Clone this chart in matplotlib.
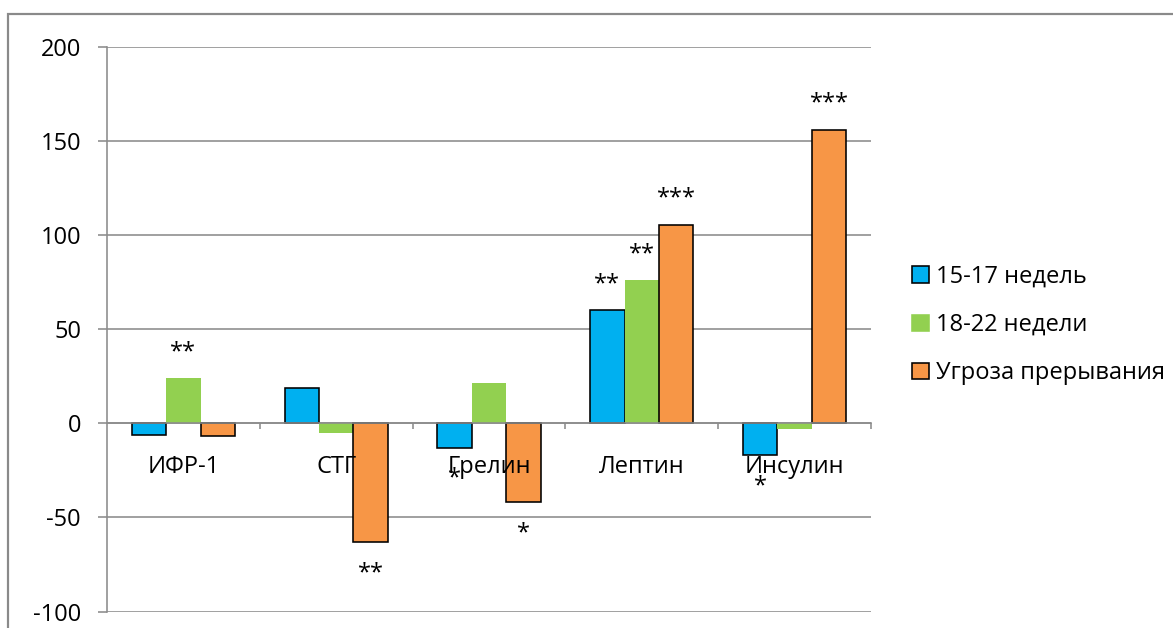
import matplotlib
matplotlib.use("Agg")
import matplotlib.pyplot as plt
from matplotlib.patches import Rectangle, Patch
from matplotlib.ticker import FixedLocator, FuncFormatter

plt.rcParams["font.family"] = ["Open Sans", "DejaVu Sans"]
plt.rcParams["axes.unicode_minus"] = False

# Data
categories = ["ИФР-1", "СТГ", "Грелин", "Лептин", "Инсулин"]
series_names = ["15-17 недель", "18-22 недели", "Угроза прерывания"]
weeks_15_17 = [-6, 19, -13, 60, -17]
weeks_18_22 = [24, -5, 21.5, 76, -3]
threat = [-6.5, -63, -42, 105.5, 156]
stars_15_17 = ["", "", "*", "**", "*"]
stars_18_22 = ["**", "", "", "**", ""]
stars_threat = ["", "**", "*", "***", "***"]
y_ticks = [-100, -50, 0, 50, 100, 150, 200]

series_values = [weeks_15_17, weeks_18_22, threat]
series_stars = [stars_15_17, stars_18_22, stars_threat]
colors = ["#00B0F0", "#92D050", "#F79646"]
edges = ["black", "none", "black"]

W, H, DPI = 1173, 628, 100
fig = plt.figure(figsize=(W / DPI, H / DPI), dpi=DPI)
ax = fig.add_axes([107 / W, 1 - 611.6 / H, (871 - 107) / W, (611.6 - 46.7) / H])

grid_col = "#8c8c8c"
fs = 17
px = 72 / DPI  # points per pixel

x = list(range(len(categories)))
bw = 0.2255
for i, (vals, col, ec) in enumerate(zip(series_values, colors, edges)):
    xs = [xi + (i - 1) * bw for xi in x]
    ax.bar(xs, vals, width=bw, color=col, edgecolor=ec,
           linewidth=1.6 * px if ec != "none" else 0, zorder=2)
    for xi, v, s in zip(xs, vals, series_stars[i]):
        if not s:
            continue
        off = 20 if v >= 0 else -37
        ax.annotate(s, (xi, v), xytext=(0, off), textcoords="offset pixels",
                    ha="center", va="baseline", fontsize=fs, zorder=4)

ax.set_xlim(-0.5, len(categories) - 0.5)
ax.set_ylim(y_ticks[0], y_ticks[-1])

# y axis
ax.yaxis.set_major_locator(FixedLocator(y_ticks))
ax.yaxis.set_major_formatter(FuncFormatter(lambda v, p: f"{int(v)}"))
ax.tick_params(axis="y", direction="out", length=9 * px, width=1.6 * px,
               color=grid_col, pad=17 * px, labelsize=fs)
ax.grid(axis="y", color=grid_col, linewidth=1.6 * px, zorder=0)
ax.set_axisbelow(True)

# x axis at zero
ax.spines["bottom"].set_position(("data", 0))
ax.spines["bottom"].set_color(grid_col)
ax.spines["bottom"].set_linewidth(1.6 * px)
ax.spines["bottom"].set_zorder(3)
ax.spines["left"].set_color(grid_col)
ax.spines["left"].set_linewidth(1.6 * px)
ax.spines["top"].set_visible(False)
ax.spines["right"].set_visible(False)
ax.set_xticks(x)
ax.set_xticklabels([])
ax.tick_params(axis="x", which="major", length=0)
ax.set_xticks([xi + 0.5 for xi in x], minor=True)
ax.tick_params(axis="x", which="minor", direction="out", length=6 * px,
               width=1.6 * px, color=grid_col)

for xi, name in zip(x, categories):
    ax.annotate(name, (xi, 0), xytext=(0, -50), textcoords="offset pixels",
                ha="center", va="baseline", fontsize=fs, zorder=5)

# legend
handles = [Patch(facecolor=c, edgecolor=(e if e != "none" else c),
                 linewidth=1.6 * px) for c, e in zip(colors, edges)]
fig.legend(handles, series_names, loc="center left",
           bbox_to_anchor=(903 / W, 1 - 325 / H), frameon=False,
           fontsize=fs, handlelength=0.68, handleheight=0.68,
           handletextpad=0.3, labelspacing=1.03, borderaxespad=0)

# outer chart frame
fig.patches.append(Rectangle((8 / W, -0.1), 1.2, 1 - 14 / H + 0.1,
                             transform=fig.transFigure, fill=False,
                             edgecolor="#8a8a8a", linewidth=2.2 * px))

fig.savefig("out.png", dpi=DPI)
